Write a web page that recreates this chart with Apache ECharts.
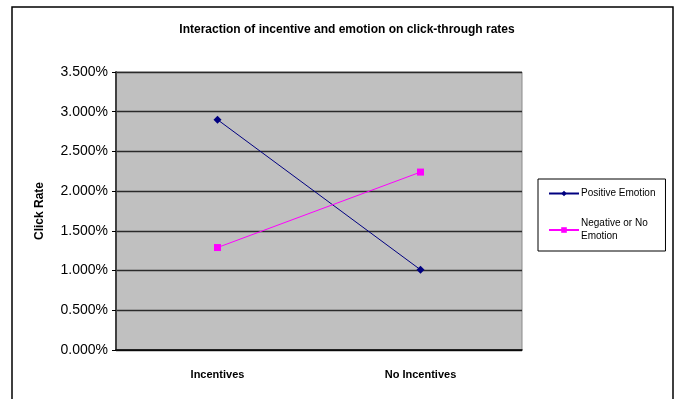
<!DOCTYPE html>
<html>
<head>
<meta charset="utf-8">
<script src="https://cdn.jsdelivr.net/npm/echarts@6/dist/echarts.min.js"></script>
<style>
  html, body { margin: 0; padding: 0; background: #fff; }
  #chart { width: 678px; height: 399px; }
</style>
</head>
<body>
<div id="chart"></div>
<script>
// values, in percent
var categories = ['Incentives', 'No Incentives'];
var positiveEmotion = [2.90, 1.01];
var negativeEmotion = [1.29, 2.24];
var seriesNames = ['Positive Emotion', 'Negative or No Emotion'];
var yTicks = [0, 0.5, 1, 1.5, 2, 2.5, 3, 3.5];

var chart = echarts.init(document.getElementById('chart'));
var font = 'Liberation Sans, Arial, sans-serif';

var option = {
  backgroundColor: '#fff',
  animation: false,
  title: {
    text: 'Interaction of incentive and emotion on click-through rates',
    left: 342,
    top: 19,
    textAlign: 'center',
    textStyle: { fontFamily: font, fontSize: 12, fontWeight: 'bold', color: '#000' }
  },
  graphic: [{
    type: 'rect',
    shape: { x: 12, y: 7, width: 661, height: 420 },
    style: { fill: 'none', stroke: '#000', lineWidth: 1.5 },
    silent: true
  }],
  legend: {
    orient: 'vertical',
    left: 538,
    top: 179,
    width: 129,
    padding: [8, 10, 8, 10],
    itemGap: 17,
    itemWidth: 30,
    itemHeight: 7,
    borderColor: '#000',
    borderWidth: 1,
    data: seriesNames,
    formatter: function (name) {
      return name === 'Negative or No Emotion' ? 'Negative or No\nEmotion' : name;
    },
    textStyle: { fontFamily: font, fontSize: 10, color: '#000', lineHeight: 13, padding: [0, 0, 0, -3] }
  },
  grid: {
    left: 116,
    top: 72,
    right: 156,
    bottom: 49,
    show: true,
    backgroundColor: '#c0c0c0',
    borderColor: '#8a8a8a',
    borderWidth: 1
  },
  xAxis: {
    type: 'category',
    data: categories,
    boundaryGap: true,
    axisLine: { lineStyle: { color: '#000', width: 1.5 } },
    axisTick: { show: false },
    axisLabel: {
      margin: 19,
      fontFamily: font,
      fontSize: 11,
      fontWeight: 'bold',
      color: '#000'
    }
  },
  yAxis: {
    type: 'value',
    min: yTicks[0],
    max: yTicks[yTicks.length - 1],
    interval: 0.5,
    name: 'Click Rate',
    nameLocation: 'middle',
    nameGap: 70,
    nameTextStyle: { fontFamily: font, fontSize: 12, fontWeight: 'bold', color: '#000' },
    axisLine: { show: true, lineStyle: { color: '#404040', width: 2 } },
    axisTick: { show: true, length: 4, lineStyle: { color: '#000' } },
    splitLine: { lineStyle: { color: '#2a2a2a', width: 1.3 } },
    axisLabel: {
      margin: 8,
      fontFamily: font,
      fontSize: 14,
      color: '#000',
      formatter: function (v) { return v.toFixed(3) + '%'; }
    }
  },
  series: [{
    name: seriesNames[0],
    type: 'line',
    data: positiveEmotion,
    symbol: 'diamond',
    symbolSize: 8,
    itemStyle: { color: '#000080' },
    lineStyle: { color: '#000080', width: 1 }
  }, {
    name: seriesNames[1],
    type: 'line',
    data: negativeEmotion,
    symbol: 'rect',
    symbolSize: 7,
    itemStyle: { color: '#ff00ff' },
    lineStyle: { color: '#ff00ff', width: 1 }
  }]
};

chart.setOption(option);
</script>
</body>
</html>
